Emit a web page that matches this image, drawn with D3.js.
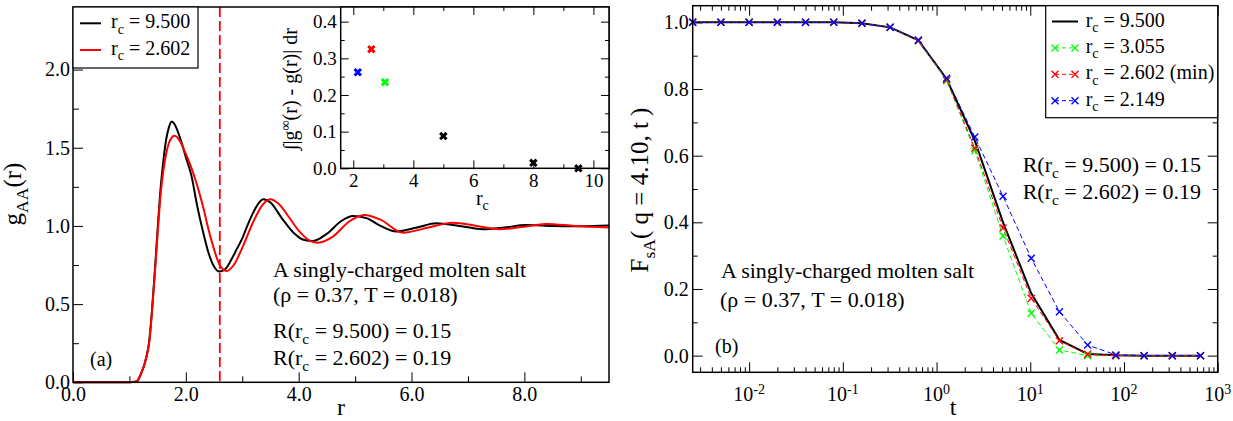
<!DOCTYPE html>
<html>
<head>
<meta charset="utf-8">
<script src="https://cdn.jsdelivr.net/npm/d3@7"></script>
<style>
  body { margin: 0; background: #fff; }
  text { white-space: pre; }
</style>
</head>
<body>
<script>
// ---- data ----

// (a) pair correlation g_AA(r), cutoff 9.500 (black) and 2.602 (red)
const rBlack = [0, 1.0, 1.13, 1.2, 1.3, 1.35, 1.4, 1.45, 1.5, 1.55, 1.6, 1.65, 1.7, 1.75, 1.8, 1.9, 2.0, 2.1, 2.2, 2.3,
  2.4, 2.5, 2.59, 2.7, 2.8, 2.9, 3.0, 3.1, 3.2, 3.37, 3.5, 3.7, 3.9, 4.1, 4.25, 4.5, 4.75, 4.96, 5.2, 5.45,
  5.73, 6.1, 6.44, 6.85, 7.26, 7.65, 8.03, 8.5, 9.0, 9.5];
const gBlack = [0, 0, 0.005, 0.05, 0.16, 0.26, 0.46, 0.71, 0.98, 1.23, 1.41, 1.55, 1.63, 1.667, 1.65, 1.56, 1.44, 1.32, 1.13, 0.97,
  0.83, 0.74, 0.708, 0.725, 0.78, 0.85, 0.92, 1.01, 1.09, 1.171, 1.15, 1.05, 0.96, 0.91, 0.904, 0.95, 1.03, 1.064, 1.05, 1.0,
  0.964, 0.99, 1.017, 1.0, 0.979, 0.99, 1.006, 1.0, 0.998, 1.003];
const rRed = [0, 1.0, 1.12, 1.2, 1.3, 1.35, 1.4, 1.45, 1.5, 1.55, 1.6, 1.65, 1.7, 1.75, 1.8, 1.9, 2.0, 2.1, 2.2, 2.3,
  2.4, 2.5, 2.6, 2.72, 2.85, 3.0, 3.2, 3.35, 3.49, 3.65, 3.8, 4.0, 4.2, 4.34, 4.6, 4.9, 5.17, 5.45, 5.85, 6.3,
  6.73, 7.15, 7.56, 8.0, 8.38, 8.9, 9.5];
const gRed = [0, 0, 0.005, 0.05, 0.16, 0.25, 0.45, 0.69, 0.95, 1.19, 1.35, 1.46, 1.53, 1.565, 1.576, 1.54, 1.46, 1.37, 1.26, 1.13,
  0.98, 0.85, 0.75, 0.712, 0.75, 0.86, 1.03, 1.13, 1.171, 1.14, 1.07, 0.97, 0.905, 0.893, 0.93, 1.03, 1.07, 1.04, 0.957, 0.99,
  1.021, 1.0, 0.979, 0.995, 1.013, 1.0, 0.99];
const rCut = 2.602;

// inset: integrated deviation vs cutoff
const insetRc = [2.149, 2.602, 3.055, 5.0, 8.0, 9.5];
const insetDev = [0.262, 0.325, 0.235, 0.088, 0.015, 0.0];
const insetColor = ["#0000ff", "#ff0000", "#00ff00", "#000", "#000", "#000"];

// (b) self intermediate scattering function
const tVals = [0.0025, 0.005, 0.01, 0.02, 0.04, 0.08, 0.16, 0.32, 0.64, 1.28, 2.56, 5.12, 10.24, 20.48, 40.96, 81.92, 163.84, 327.68, 655.36];
const fBlack = [1, 1, 1, 1, 1, 1, 0.997, 0.985, 0.946, 0.83, 0.645, 0.40, 0.187, 0.047, 0.005, 0.001, 0, 0, 0];
const fGreen = [1, 1, 1, 1, 1, 1, 0.997, 0.985, 0.945, 0.825, 0.615, 0.359, 0.127, 0.017, 0.0, 0, 0, 0, 0];
const fRed = [1, 1, 1, 1, 1, 1, 0.997, 0.985, 0.945, 0.828, 0.622, 0.383, 0.172, 0.045, 0.004, 0, 0, 0, 0];
const fBlue = [1, 1, 1, 1, 1, 1, 0.997, 0.985, 0.947, 0.832, 0.656, 0.478, 0.292, 0.132, 0.032, 0.002, 0, 0, 0];

const legendA = ["9.500", "2.602"];
const legendB = ["9.500", "3.055", "2.602 (min)", "2.149"];

// ticks
const rTicks = [0, 2, 4, 6, 8], rMinor = [1, 3, 5, 7, 9];
const gTicks = [0, 0.5, 1, 1.5, 2], gMinor = [0.25, 0.75, 1.25, 1.75, 2.25];
const rcTicks = [2, 4, 6, 8, 10], rcMinor = [3, 5, 7, 9];
const devTicks = [0, 0.1, 0.2, 0.3, 0.4], devMinor = [0.05, 0.15, 0.25, 0.35];
const fTicks = [0, 0.2, 0.4, 0.6, 0.8, 1.0], fMinor = [0.1, 0.3, 0.5, 0.7, 0.9];
const tDecades = [0.01, 0.1, 1, 10, 100, 1000], tExp = ["-2", "-1", "0", "1", "2", "3"];

const serif = '"Liberation Serif", "Times New Roman", Times, serif';

const svg = d3.select("body").append("svg")
  .attr("width", 1233).attr("height", 421)
  .style("background", "#fff");

// text with sub/superscripts
function rich(parent, x, y, parts, size, anchor) {
  const t = parent.append("text").attr("x", x).attr("y", y)
    .attr("font-family", serif).attr("font-size", size)
    .attr("text-anchor", anchor || "start").attr("fill", "#000");
  let cur = 0;
  parts.forEach(p => {
    if (typeof p === "string") p = { t: p };
    const off = p.sub ? size * 0.27 : p.sup ? -size * 0.33 : 0;
    const s = t.append("tspan").text(p.t).attr("dy", off - cur);
    if (p.sub || p.sup) s.attr("font-size", size * 0.7);
    cur = off;
  });
  return t;
}
function vlabel(x, y, parts, size) {
  const g = svg.append("g").attr("transform", `translate(${x},${y}) rotate(-90)`);
  rich(g, 0, 0, parts, size, "middle");
}
function tidy(g, size) {
  g.attr("font-family", serif).attr("font-size", size);
  g.select(".domain").remove();
  g.selectAll(".tick line").attr("stroke", "#000");
  g.selectAll(".tick text").attr("fill", "#000");
}
function frame(x0, x1, y0, y1, fill) {
  svg.append("rect").attr("x", x0).attr("y", y0).attr("width", x1 - x0).attr("height", y1 - y0)
    .attr("fill", fill || "none").attr("stroke", "#000").attr("stroke-width", 1.5);
}
const cross = s => `M${-s},${-s}L${s},${s}M${-s},${s}L${s},${-s}`;

// ================= panel (a) =================
const xL = d3.scaleLinear().domain([0, 9.5]).range([73, 609]);
const yL = d3.scaleLinear().domain([0, 2.4]).range([382.3, 7]);

svg.append("g").attr("transform", `translate(73,0)`)
  .call(d3.axisLeft(yL).tickValues(gTicks).tickFormat(d3.format(".1f")).tickSize(-10).tickPadding(3))
  .call(g => tidy(g, 20));
svg.append("g").attr("transform", `translate(73,0)`)
  .call(d3.axisLeft(yL).tickValues(gMinor).tickFormat("").tickSize(-6))
  .call(g => tidy(g, 20));
svg.append("g").attr("transform", `translate(0,382.3)`)
  .call(d3.axisBottom(xL).tickValues(rTicks).tickFormat(d3.format(".1f")).tickSize(-10).tickPadding(5))
  .call(g => tidy(g, 20));
svg.append("g").attr("transform", `translate(0,382.3)`)
  .call(d3.axisBottom(xL).tickValues(rMinor).tickFormat("").tickSize(-6))
  .call(g => tidy(g, 20));

const lineA = d3.line().x(d => xL(d[0])).y(d => yL(d[1])).curve(d3.curveMonotoneX);
svg.append("path").datum(d3.zip(rBlack, gBlack)).attr("d", lineA)
  .attr("fill", "none").attr("stroke", "#000").attr("stroke-width", 2);
svg.append("path").datum(d3.zip(rRed, gRed)).attr("d", lineA)
  .attr("fill", "none").attr("stroke", "#ff0000").attr("stroke-width", 2);

svg.append("line").attr("x1", xL(rCut)).attr("x2", xL(rCut)).attr("y1", yL(2.4)).attr("y2", yL(0))
  .attr("stroke", "#ff0000").attr("stroke-width", 1.8).attr("stroke-dasharray", "10,4");

frame(73, 609, 7, 382.3);

// legend (a)
svg.append("rect").attr("x", 73).attr("y", 7).attr("width", 125).attr("height", 61)
  .attr("fill", "#fff").attr("stroke", "#000").attr("stroke-width", 1.2);
legendA.forEach((v, i) => {
  const yy = 23.3 + i * 26.7;
  svg.append("line").attr("x1", 80).attr("x2", 101).attr("y1", yy).attr("y2", yy)
    .attr("stroke", i ? "#ff0000" : "#000").attr("stroke-width", 2);
  rich(svg, 111, yy + 5, ["r", { t: "c", sub: true }, " = " + v], 20);
});

rich(svg, 273, 277, ["A singly-charged molten salt"], 22);
rich(svg, 273, 302, ["(\u03c1 = 0.37, T = 0.018)"], 22);
rich(svg, 273, 338, ["R(r", { t: "c", sub: true }, " = 9.500) = 0.15"], 22);
rich(svg, 273, 365, ["R(r", { t: "c", sub: true }, " = 2.602) = 0.19"], 22);
rich(svg, 90, 366, ["(a)"], 20);

rich(svg, xL(4.75), 415, ["r"], 24, "middle");
vlabel(21, 194, ["g", { t: "AA", sub: true }, "(r)"], 25);

// ---- inset ----
const xI = d3.scaleLinear().domain([1.58, 10.52]).range([340.7, 609]);
const yI = d3.scaleLinear().domain([0, 0.44]).range([168.3, 7]);
frame(340.7, 609, 7, 168.3, "#fff");
[[devTicks, 8], [devMinor, 4]].forEach(([tv, s]) => {
  svg.append("g").attr("transform", `translate(340.7,0)`)
    .call(d3.axisLeft(yI).tickValues(tv).tickFormat(s > 5 ? d3.format(".1f") : "").tickSize(-s).tickPadding(4))
    .call(g => tidy(g, 19));
  svg.append("g").attr("transform", `translate(609,0)`)
    .call(d3.axisRight(yI).tickValues(tv).tickFormat("").tickSize(-s))
    .call(g => tidy(g, 19));
});
[[rcTicks, 8], [rcMinor, 4]].forEach(([tv, s]) => {
  svg.append("g").attr("transform", `translate(0,168.3)`)
    .call(d3.axisBottom(xI).tickValues(tv).tickFormat(s > 5 ? d3.format("d") : "").tickSize(-s).tickPadding(5))
    .call(g => tidy(g, 19));
  svg.append("g").attr("transform", `translate(0,7)`)
    .call(d3.axisTop(xI).tickValues(tv).tickFormat("").tickSize(-s))
    .call(g => tidy(g, 19));
});
svg.append("g").selectAll("path").data(d3.zip(insetRc, insetDev, insetColor)).join("path")
  .attr("transform", d => `translate(${xI(d[0])},${yI(d[1])})`)
  .attr("d", cross(3.2)).attr("fill", "none").attr("stroke", d => d[2]).attr("stroke-width", 3);
rich(svg, xI(6.3), 205, ["r", { t: "c", sub: true }], 20, "middle");
vlabel(297, 89, ["\u222b|g", { t: "\u221e", sup: true }, "(r) - g(r)| dr"], 20);

// ================= panel (b) =================
const xR = d3.scaleLog().domain([0.0025, 1000]).range([692.7, 1217.7]);
const yR = d3.scaleLinear().domain([-0.05, 1.05]).range([372.3, 5.7]);
const tMinor = [];
[0.001, 0.01, 0.1, 1, 10, 100].forEach(d => { for (let k = 2; k <= 9; k++) { const v = d * k; if (v > 0.0025 && v < 1000) tMinor.push(v); } });

[[fTicks, 10], [fMinor, 5]].forEach(([tv, s]) => {
  svg.append("g").attr("transform", `translate(692.7,0)`)
    .call(d3.axisLeft(yR).tickValues(tv).tickFormat(s > 5 ? d3.format(".1f") : "").tickSize(-s).tickPadding(4))
    .call(g => tidy(g, 20));
  svg.append("g").attr("transform", `translate(1217.7,0)`)
    .call(d3.axisRight(yR).tickValues(tv).tickFormat("").tickSize(-s))
    .call(g => tidy(g, 20));
});
[[tDecades, 10], [tMinor, 5]].forEach(([tv, s]) => {
  svg.append("g").attr("transform", `translate(0,372.3)`)
    .call(d3.axisBottom(xR).tickValues(tv).tickFormat("").tickSize(-s))
    .call(g => tidy(g, 20));
  svg.append("g").attr("transform", `translate(0,5.7)`)
    .call(d3.axisTop(xR).tickValues(tv).tickFormat("").tickSize(-s))
    .call(g => tidy(g, 20));
});
tDecades.forEach((v, i) => rich(svg, xR(v), 400.7, ["10", { t: tExp[i], sup: true }], 20, "middle"));

const lineB = d3.line().x(d => xR(d[0])).y(d => yR(d[1]));
svg.append("path").datum(d3.zip(tVals, fBlack)).attr("d", lineB)
  .attr("fill", "none").attr("stroke", "#000").attr("stroke-width", 2);
const seriesB = [[fGreen, "#00ff00"], [fRed, "#ff0000"], [fBlue, "#0000ff"]];
seriesB.forEach(([f, c]) => {
  svg.append("path").datum(d3.zip(tVals, f)).attr("d", lineB)
    .attr("fill", "none").attr("stroke", c).attr("stroke-width", 1).attr("stroke-dasharray", "5,3");
});
seriesB.forEach(([f, c]) => {
  svg.append("g").selectAll("path").data(d3.zip(tVals, f)).join("path")
    .attr("transform", d => `translate(${xR(d[0])},${yR(d[1])})`)
    .attr("d", cross(3.5)).attr("fill", "none").attr("stroke", c).attr("stroke-width", 1.4);
});

frame(692.7, 1217.7, 5.7, 372.3);

// legend (b)
svg.append("rect").attr("x", 1045.7).attr("y", 5.7).attr("width", 172).attr("height", 112)
  .attr("fill", "#fff").attr("stroke", "#000").attr("stroke-width", 1.2);
const legCol = ["#000", "#00ff00", "#ff0000", "#0000ff"];
legendB.forEach((v, i) => {
  const yy = 21.5 + i * 26.4;
  if (i === 0) {
    svg.append("line").attr("x1", 1052).attr("x2", 1078).attr("y1", yy).attr("y2", yy)
      .attr("stroke", "#000").attr("stroke-width", 2);
  } else {
    svg.append("line").attr("x1", 1055).attr("x2", 1075).attr("y1", yy).attr("y2", yy)
      .attr("stroke", legCol[i]).attr("stroke-width", 1).attr("stroke-dasharray", "4,3");
    [1055, 1075].forEach(mx => svg.append("path").attr("transform", `translate(${mx},${yy})`)
      .attr("d", cross(3.5)).attr("fill", "none").attr("stroke", legCol[i]).attr("stroke-width", 1.4));
  }
  rich(svg, 1085.7, yy + 5, ["r", { t: "c", sub: true }, " = " + v], 20);
});

rich(svg, 1022.7, 171.7, ["R(r", { t: "c", sub: true }, " = 9.500) = 0.15"], 22);
rich(svg, 1022.7, 199, ["R(r", { t: "c", sub: true }, " = 2.602) = 0.19"], 22);
rich(svg, 721, 278, ["A singly-charged molten salt"], 22);
rich(svg, 720, 307, ["(\u03c1 = 0.37, T = 0.018)"], 22);
rich(svg, 715, 353, ["(b)"], 20);

rich(svg, xR(1.5), 415, ["t"], 24, "middle");
vlabel(648, 190, ["F", { t: "sA", sub: true }, "( q = 4.10, t )"], 25);
</script>
</body>
</html>
